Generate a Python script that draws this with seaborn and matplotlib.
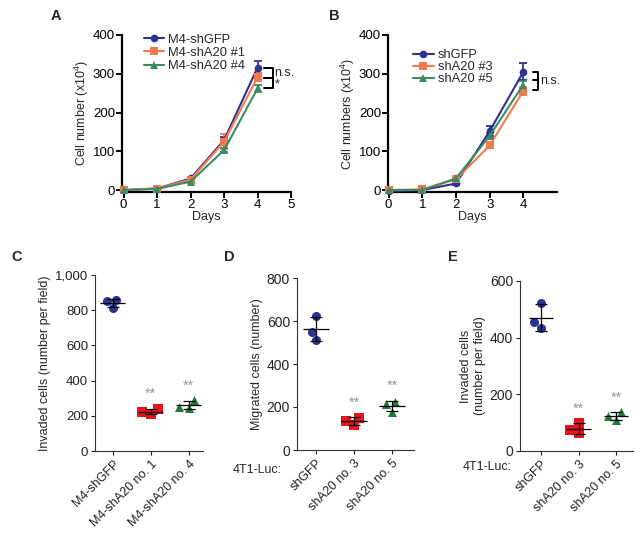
import numpy as np
import pandas as pd
import matplotlib
matplotlib.use("Agg")
import matplotlib.pyplot as plt
import seaborn as sns

# ---- growth curves (panels A, B) ----
days = [0, 1, 2, 3, 4]

a_labels = ["M4-shGFP", "M4-shA20 #1", "M4-shA20 #4"]
a_mean = [
    [0, 4, 30, 129, 316],
    [0, 4, 27, 125, 291],
    [0, 3, 22, 103, 262],
]
a_err = [
    [2, 2, 3, 8, 18],
    [2, 2, 3, 20, 10],
    [2, 2, 3, 6, 10],
]

b_labels = ["shGFP", "shA20 #3", "shA20 #5"]
b_mean = [
    [-3, 0, 17, 152, 305],
    [0, 2, 28, 115, 256],
    [0, 0, 30, 140, 272],
]
b_err = [
    [2, 2, 3, 12, 22],
    [2, 2, 3, 6, 10],
    [2, 2, 3, 6, 10],
]

# ---- dot plots (panels C, D, E) ----
c_groups = ["M4-shGFP", "M4-shA20 no. 1", "M4-shA20 no. 4"]
c_values = [[860, 850, 812], [240, 208, 224], [290, 250, 246]]
c_yticks = [0, 200, 400, 600, 800, 1000]
c_yticklabels = ["0", "200", "400", "600", "800", "1,000"]

d_groups = ["shGFP", "shA20 no. 3", "shA20 no. 5"]
d_values = [[624, 551, 512], [150, 136, 115], [178, 225, 212]]
d_yticks = [0, 200, 400, 600, 800]

e_groups = ["shGFP", "shA20 no. 3", "shA20 no. 5"]
e_values = [[523, 435, 455], [99, 64, 75], [136, 108, 124]]
e_yticks = [0, 200, 400, 600]

line_colors = ["#2e3192", "#f4794f", "#3b8a63"]
dot_colors = ["#2e3192", "#e8141b", "#1e7a3a"]
markers = ["o", "s", "^"]

sns.set_style("ticks")
plt.rcParams["font.family"] = ["Liberation Sans", "DejaVu Sans"]
plt.rcParams["mathtext.fontset"] = "custom"
plt.rcParams["mathtext.rm"] = "Liberation Sans"
plt.rcParams["mathtext.it"] = "Liberation Sans:italic"

W, H = 642, 536
fig = plt.figure(figsize=(W / 100, H / 100), dpi=100)


def rect(l, t, r, b):
    return [l / W, 1 - b / H, (r - l) / W, (b - t) / H]


def growth_panel(ax, labels, means, errs, ylabel):
    for lab, m, e, col, mk in zip(labels, means, errs, line_colors, markers):
        ax.errorbar(days, m, yerr=e, fmt="none", ecolor=col, elinewidth=1.3,
                    capsize=3, capthick=1.3, clip_on=False, zorder=3)
        sns.lineplot(x=days, y=m, ax=ax, color=col, marker=mk, markersize=5.5,
                     markeredgewidth=0, linewidth=1.5, label=lab, clip_on=False,
                     zorder=4)
    ax.set_ylim(-5, 400)
    ax.set_yticks([0, 100, 200, 300, 400])
    ax.set_xlabel("Days", fontsize=9, labelpad=0)
    ax.set_ylabel(ylabel, fontsize=9, labelpad=1)
    for s in ["top", "right"]:
        ax.spines[s].set_visible(False)
    for s in ["left", "bottom"]:
        ax.spines[s].set_linewidth(1.6)
        ax.spines[s].set_color("black")
    ax.tick_params(length=4, width=1.4, labelsize=9.5, pad=1, colors="black")


def bracket(ax, x0, x1, y0, y1, text, ty):
    ax.plot([x0, x1, x1, x0], [y0, y0, y1, y1], color="black", lw=1.4,
            clip_on=False)
    ax.text(x1 + 0.05, ty, text, fontsize=9, va="center", ha="left")


# Panel A
axA = fig.add_axes(rect(122, 35, 291, 192))
growth_panel(axA, a_labels, a_mean, a_err, "Cell number (x10$^4$)")
axA.set_xlim(-0.05, 5)
axA.set_xticks([0, 1, 2, 3, 4, 5])
bracket(axA, 4.2, 4.45, 315, 289, "n.s.", 303)
bracket(axA, 4.2, 4.45, 289, 263, "*", 272)
axA.legend(loc="upper left", bbox_to_anchor=(0.09, 1.05), frameon=False,
           fontsize=9.3, handlelength=1.6, handletextpad=0.3, labelspacing=0.1,
           borderpad=0)

# Panel B
axB = fig.add_axes(rect(388, 35, 557, 192))
growth_panel(axB, b_labels, b_mean, b_err, "Cell numbers (x10$^4$)")
axB.set_xlim(-0.02, 5.0)
axB.set_xticks([0, 1, 2, 3, 4])
bracket(axB, 4.3, 4.45, 305, 258, "n.s.", 281)
axB.plot([4.3, 4.45], [283, 283], color="black", lw=1.4)
axB.legend(loc="upper left", bbox_to_anchor=(0.11, 0.95), frameon=False,
           fontsize=9.3, handlelength=1.6, handletextpad=0.3, labelspacing=0.0,
           borderpad=0)


def dot_panel(ax, groups, values, ylabel, yticks, yticklabels, xlim, tsize):
    rows = []
    for g, vals in zip(groups, values):
        for v in vals:
            rows.append({"group": g, "value": v})
    df = pd.DataFrame(rows)
    for g, col, mk in zip(groups, dot_colors, markers):
        sub = df[df["group"] == g]
        sns.swarmplot(data=sub, x="group", y="value", order=groups, ax=ax,
                      color=col, marker=mk, size=6.5, linewidth=0, zorder=3)
    stats = df.groupby("group", sort=False)["value"].agg(["mean", "std"])
    stats = stats.reindex(groups)
    pos = np.arange(len(groups))
    ax.hlines(stats["mean"], pos - 0.33, pos + 0.33, color="black", lw=0.9,
              zorder=4)
    ax.errorbar(pos, stats["mean"], yerr=stats["std"], fmt="none",
                ecolor="black", elinewidth=0.9, capsize=4, capthick=0.9,
                zorder=4)
    for p in pos[1:]:
        top = stats["mean"].iloc[p] + stats["std"].iloc[p]
        ax.text(p, top + 0.045 * yticks[-1], "**", color="#999999",
                fontsize=10.5, ha="center", va="bottom")
    ax.set_ylim(0, yticks[-1])
    ax.set_yticks(yticks)
    ax.set_yticklabels(yticklabels)
    ax.set_xlim(*xlim)
    ax.set_xticks(pos)
    ax.set_xticklabels(groups, rotation=45, ha="right", rotation_mode="anchor")
    ax.set_xlabel("")
    ax.set_ylabel(ylabel, fontsize=9, labelpad=3)
    for s in ["top", "right"]:
        ax.spines[s].set_visible(False)
    for s in ["left", "bottom"]:
        ax.spines[s].set_linewidth(0.8)
        ax.spines[s].set_color("#333333")
    ax.tick_params(length=3, width=0.8, labelsize=9, pad=2, colors="#222222")
    ax.tick_params(axis="y", labelsize=tsize)


axC = fig.add_axes(rect(95, 275, 203, 451))
dot_panel(axC, c_groups, c_values, "Invaded cells (number per field)",
          c_yticks, c_yticklabels, (-0.47, 2.37), 9.5)

axD = fig.add_axes(rect(297, 278, 414, 450))
dot_panel(axD, d_groups, d_values, "Migrated cells (number)",
          d_yticks, [str(t) for t in d_yticks], (-0.5, 2.58), 10)

axE = fig.add_axes(rect(520, 281, 633, 451))
dot_panel(axE, e_groups, e_values, "Invaded cells\n(number per field)",
          e_yticks, [str(t) for t in e_yticks], (-0.56, 2.45), 10)

fig.text(282 / W, 1 - 470 / H, "4T1-Luc:", fontsize=9, ha="right", va="center")
fig.text(512 / W, 1 - 467 / H, "4T1-Luc:", fontsize=9, ha="right", va="center")

# panel letters
for letter, (px, py) in zip("ABCDE", [(56, 16), (334, 16), (17, 257),
                                      (229, 257), (453, 257)]):
    fig.text(px / W, 1 - py / H, letter, fontsize=10.5, fontweight="bold",
             ha="center", va="center")

fig.savefig("out.png", dpi=100)
